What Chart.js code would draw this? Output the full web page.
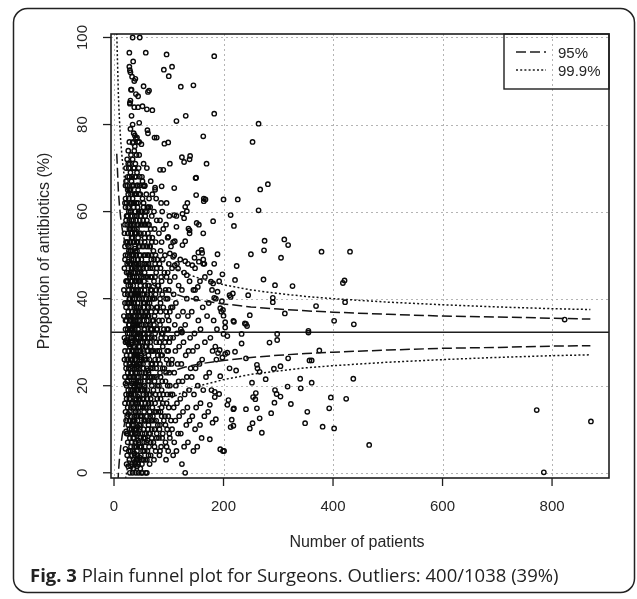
<!DOCTYPE html>
<html><head><meta charset="utf-8">
<script src="https://cdn.jsdelivr.net/npm/chart.js@4.4.1/dist/chart.umd.min.js"></script>
<style>html,body{margin:0;padding:0;background:#fff;}canvas{display:block;}</style>
</head><body>
<canvas id="c" width="637" height="599"></canvas>
<script>
// ---------- data ----------
const xTicks = [0, 200, 400, 600, 800];
const yTicks = [0, 20, 40, 60, 80, 100];
const centreLine = 32.3;
const legendLabels = ['95%', '99.9%'];
const xTitle = 'Number of patients';
const yTitle = 'Proportion of antibiotics (%)';
const captionBold = 'Fig. 3';
const captionText = ' Plain funnel plot for Surgeons. Outliers: 400/1038 (39%)';

const limitN   = [5, 8, 10, 12, 15, 20, 25, 30, 40, 50, 60, 80, 100, 130, 160, 200, 250, 300, 350, 400, 500, 600, 700, 800, 870];
const upper95  = [73.3, 64.7, 61.3, 58.8, 56.0, 52.8, 50.6, 49.0, 46.8, 45.3, 44.1, 42.5, 41.5, 40.3, 39.5, 38.8, 38.1, 37.6, 37.2, 36.9, 36.4, 36.0, 35.8, 35.5, 35.3];
const lower95  = [-8.7, -0.1, 3.3, 5.8, 8.6, 11.8, 14.0, 15.6, 17.8, 19.3, 20.5, 22.1, 23.1, 24.3, 25.1, 25.8, 26.5, 27.0, 27.4, 27.7, 28.2, 28.6, 28.8, 29.1, 29.2];
const upper999 = [101, 86.7, 80.9, 76.7, 72.0, 66.7, 63.1, 60.4, 56.6, 54.0, 52.2, 49.5, 47.7, 45.8, 44.5, 43.2, 42.0, 41.2, 40.5, 40.0, 39.2, 38.6, 38.1, 37.7, 37.5];
const lower999 = [-36, -22, -16, -12, -7.5, -2.1, 1.5, 4.2, 8.0, 10.5, 12.4, 15.1, 16.9, 18.8, 20.1, 21.4, 22.6, 23.4, 24.1, 24.6, 25.4, 26.0, 26.5, 26.9, 27.1];

// surgeons: [number of patients, proportion %]
const pointsHigh = [[34,100],[47,100],[28,96.5],[58,96.5],[96,96.1],[183,95.7],[35,94.5],[29,92.5],[28,93.3],[30,92],[91,92.6],[106,93.3],[100,91.1],[33,91],[37,90],[39,90.5],[122,88.7],[145,89],[32,88],[54,88.8],[62,87.5],[64,87.8],[40,87],[44,86.5],[30,85.5],[29,84.8],[37,84],[44,84],[52,84.2],[60,83.5],[70,83.3],[131,82],[114,80.8],[183,82.5],[46,80.4],[61,78.7],[38,77.5],[40,76.8],[74,77],[78,77],[163,77.3],[92,75.6],[99,75.9],[46,76],[50,75.5],[34,75.8],[124,72.5],[139,72.8],[128,71.4],[169,71],[102,71],[84,69.6],[90,69.6],[150,67.8],[110,65.4],[75,65.5],[87,65.8],[52,67],[55,65.9],[56,65.9],[267,65.1],[281,66.3],[264,80.2],[253,76],[264,60.3],[150,63.8],[164,63],[164,62.4],[200,62.8],[226,62.8],[213,59.2],[219,56.7],[181,57.8],[151,57.4],[125,59.5],[128,58.5],[110,59.2],[163,55],[138,55.7],[149,67.7],[167,62.8],[130,61.1],[133,60.1],[114,56.5],[136,56.1]];
const pointsMid = [[189,50.2],[250,50.2],[275,53.3],[274,51.1],[311,53.6],[318,52.3],[305,49.4],[161,50.5],[163,49],[165,48],[160,51.2],[224,47.5],[198,45.6],[273,44.4],[294,43.1],[326,42.9],[245,40.8],[379,50.8],[431,50.8],[418,43.6],[421,44.2],[99,54.2],[111,53.2],[130,53.2],[125,52.3],[102,50.4],[108,49.6],[111,47.7],[117,46.9],[147,49.4],[154,50.6],[155,48.5],[143,47.7],[130,48.6],[133,45.4],[166,45],[177,43.9],[181,43.5],[153,42.7],[148,42],[189,41.6],[183,40.2],[197,39.4],[213,40.4],[217,41.2],[211,40.8],[221,44.3],[290,40.2],[290,39.2],[422,39.2],[369,38.3],[438,34.1],[402,34.9],[355,32.6],[355,32.2],[823,35.2],[312,36.6],[248,36.2],[199,37.4],[200,36.1],[194,37.8],[218,34.9],[239,34.3],[203,34.6],[203,33.4],[219,34.7],[241,34.2],[243,33.7],[200,31.9],[207,31.4],[233,31.9],[298,31.9],[298,30.5],[284,29.9],[124,32.4],[124,32.2]];
const pointsLow = [[375,28.1],[361,25.8],[357,25.8],[340,21.6],[361,20.7],[341,19.4],[437,21.6],[396,17.3],[424,17],[393,14.8],[353,14],[349,11.4],[381,10.6],[402,10.2],[466,6.4],[772,14.4],[871,11.8],[785,0.1],[185,29],[190,27.5],[198,26.5],[187,26],[193,28.2],[203,27.3],[221,27.8],[207,27.6],[233,29.7],[241,26.3],[318,26.3],[211,24],[223,23.5],[261,24.8],[262,24],[266,23.2],[292,23.9],[304,24.5],[194,22.2],[252,20.7],[277,21.5],[317,19.8],[184,18.6],[192,18.1],[184,17.4],[254,17.4],[259,18.3],[258,16.9],[294,19],[297,18.1],[304,17.5],[323,15.8],[293,16.1],[209,16.7],[207,15.6],[219,14.8],[218,14.6],[241,14.6],[261,14.8],[287,13.7],[266,12.5],[215,12.2],[218,10.8],[213,10.5],[253,11.4],[248,10.2],[270,9.2],[180,11.5],[186,12.3],[175,7.7],[194,5.4],[201,5],[175,15.6]];
const pointsCore = [[18,42],[19,47],[18,36],[20,52],[21,30],[19,26],[20,22],[22,18],[21,14],[22,58],[20,62],[21,66],[22,70],[19,55],[20,39],[22,44],[21,33],[22,25],[20,49],[22,12],[21,61],[19,31],
[24,4],[25,7],[23,9],[26,11],[24,13],[25,15],[23,17],[26,19],[24,21],[25,23],[27,24],[23,27],[26,28],[24,30],[25,32],[27,34],[23,35],[26,37],[24,39],[25,41],[27,42],[23,44],[26,46],[24,48],[25,50],[27,51],[23,53],[26,55],[24,57],[25,59],[27,60],[23,62],[26,64],[24,66],[25,68],[27,70],[24,72],[26,74],[25,33],[23,20],[27,16],[24,26],[26,43],[25,53],
[29,0],[28,3],[30,5],[31,6],[29,8],[28,10],[32,10],[30,12],[29,14],[31,15],[28,17],[32,18],[30,20],[29,22],[31,23],[28,25],[32,26],[30,27],[29,29],[31,31],[28,32],[32,33],[30,35],[29,36],[31,38],[28,40],[32,41],[30,43],[29,45],[31,46],[28,48],[32,49],[30,51],[29,53],[31,55],[28,56],[32,58],[30,60],[29,62],[31,64],[28,65],[32,67],[30,69],[29,71],[31,73],[28,76],[30,79],[32,82],[29,85],[31,88],[30,24],[31,19],[29,40],[32,44],[30,57],[29,33],
[34,0],[35,1],[33,2],[36,3],[34,5],[37,6],[35,8],[33,9],[36,11],[34,12],[37,13],[35,15],[33,16],[36,18],[34,19],[37,20],[35,22],[33,23],[36,25],[34,26],[37,27],[35,29],[33,30],[36,32],[34,33],[37,34],[35,36],[33,37],[36,39],[34,40],[37,41],[35,43],[33,44],[36,46],[34,47],[37,48],[35,50],[33,51],[36,53],[34,54],[37,56],[35,58],[33,59],[36,61],[34,63],[37,64],[35,66],[33,68],[36,70],[34,72],[37,74],[35,76],[36,78],[34,80],[36,21],[35,31],[37,38],[34,45],[36,49],[33,56],[35,62],
[40,0],[39,2],[41,3],[38,4],[42,5],[40,7],[39,9],[41,10],[38,12],[42,13],[40,14],[39,16],[41,17],[38,19],[42,20],[40,21],[39,23],[41,24],[38,26],[42,27],[40,28],[39,30],[41,31],[38,33],[42,34],[40,35],[39,37],[41,38],[38,40],[42,41],[40,42],[39,44],[41,45],[38,47],[42,48],[40,50],[39,51],[41,53],[38,55],[42,56],[40,58],[39,60],[41,62],[38,64],[42,66],[40,68],[39,71],[41,73],[38,75],[42,77],[41,25],[40,32],[39,46],[42,22],[38,29],
[45,0],[44,2],[46,3],[43,4],[47,6],[45,7],[44,9],[46,11],[43,12],[48,13],[45,15],[44,16],[46,18],[43,19],[47,20],[45,22],[44,24],[46,25],[43,27],[48,28],[45,29],[44,31],[46,32],[43,34],[47,35],[45,37],[44,38],[46,40],[43,41],[48,43],[45,44],[44,46],[46,47],[43,49],[47,50],[45,52],[44,54],[46,55],[43,57],[48,59],[45,60],[44,62],[46,64],[43,66],[47,68],[45,70],[46,73],[44,76],[46,36],[45,21],[47,26],[44,33],[46,44],[45,48],
[50,0],[52,0],[51,2],[49,4],[53,5],[50,6],[54,8],[52,9],[49,11],[55,12],[51,13],[53,15],[50,16],[54,18],[52,19],[49,21],[55,22],[51,23],[53,25],[50,27],[54,28],[52,30],[49,31],[55,33],[51,34],[53,36],[50,37],[54,39],[52,41],[49,42],[55,44],[51,45],[53,47],[50,49],[54,50],[52,52],[49,53],[55,55],[51,57],[53,58],[50,60],[54,62],[52,63],[53,66],[51,68],[54,71],[50,26],[53,32],[51,40],[52,17],
[58,0],[60,0],[57,3],[61,5],[59,7],[56,9],[62,10],[58,12],[60,13],[57,15],[61,17],[59,18],[56,20],[62,21],[58,23],[60,24],[57,26],[61,28],[59,29],[56,31],[62,32],[58,34],[60,35],[57,37],[61,39],[59,40],[56,42],[62,43],[58,45],[60,47],[57,48],[61,50],[59,52],[56,53],[62,55],[58,57],[60,58],[57,60],[61,61],[59,64],[56,66],[60,70],[62,78],[61,36],
[65,2],[67,4],[64,6],[69,8],[66,9],[63,11],[68,12],[65,14],[70,15],[67,17],[64,18],[69,20],[66,22],[63,23],[68,25],[65,26],[70,28],[67,29],[64,31],[69,33],[66,34],[63,36],[68,37],[65,39],[70,40],[67,42],[64,43],[69,45],[66,47],[63,48],[68,50],[65,52],[70,54],[67,56],[64,57],[69,59],[66,61],[64,63],[70,64],[67,67]];
const pointsCoreExtra = [[21,5.5],[22,9.5],[20,16],[23,2],[21,20.5],[22,24],[20,28],[23,30.5],[21,35],[22,38],[20,41],[23,46],[21,50],[22,53],[20,57],[23,59],[21,63],[22,67],
[26,1.5],[27,5],[25,9],[28,12],[26,13.5],[27,18],[25,21],[28,22],[26,26],[27,29.5],[25,30],[28,34],[26,36],[27,39],[25,44],[28,45.5],[26,48.5],[27,52],[25,55],[28,58],[26,61],[27,63],[25,65],[28,68],[26,71],
[31,1.5],[33,4],[32,7],[30,9],[33,11],[31,13],[32,16],[30,18],[33,20.5],[31,22],[32,24.5],[30,26],[33,28],[31,29.5],[32,31],[30,33],[33,35],[31,36],[32,39],[30,41],[33,42],[31,44],[32,47],[30,48],[33,50],[31,52],[32,54],[30,56],[33,57],[31,60],[32,62],[30,65],[33,66],
[36,1],[38,2.5],[37,4.5],[39,7],[36,8],[38,10],[37,12],[39,14],[36,15],[38,17],[37,19],[39,20.5],[36,22],[38,24],[37,25],[39,27],[36,28],[38,30.5],[37,32],[39,34],[36,35],[38,36],[37,39],[39,41],[36,42],[38,44],[37,45],[39,48],[36,50],[38,51.5],[37,53],[39,55],[36,57],[38,59],[37,62],[39,64],[36,66],[38,68],[37,70],
[42,1.5],[43,3],[41,6],[44,7.5],[42,9],[43,10.5],[41,13],[44,14],[42,16],[43,17.5],[41,19],[44,20],[42,23],[43,24.5],[41,27],[44,28],[42,30],[43,32],[41,34],[44,35],[42,37],[43,39],[41,41],[44,42],[42,44],[43,46],[41,48],[44,49],[42,51],[43,53],[41,55],[44,57],[42,59],[43,61],[41,64],[44,65],[42,69],
[48,1],[47,3.5],[49,6],[48,8],[47,10],[49,13],[48,15],[47,17],[49,19],[48,21],[47,23],[49,25],[48,26.5],[47,29],[49,30],[48,32],[47,34],[49,36],[48,38],[47,40],[49,42],[48,44],[47,46],[49,47],[48,50],[47,52],[49,55],[48,57],[47,58],[49,60],[48,64],[47,66],
[54,3],[56,5],[55,7],[57,8],[54,10],[56,12],[55,14],[57,16],[54,17],[56,19],[55,20],[57,22],[54,24],[56,26],[55,27.5],[57,29],[54,31],[56,33],[55,35],[57,36],[54,38],[56,39],[55,41],[57,43],[54,45],[56,46],[55,48],[57,50],[54,52],[56,54],[55,57],[57,59],[54,61],
[60,3],[63,4],[61,7.5],[64,9],[62,12],[60,15],[63,16],[61,19],[64,21],[62,23.5],[60,26],[63,27],[61,30],[64,32],[62,34],[60,37],[63,38],[61,41],[64,40],[62,45],[60,48],[63,50],[61,52],[64,54],[62,57],[60,60],[63,61],
[67,7],[69,10],[66,13],[70,12],[68,16],[66,18],[69,22],[67,24],[70,25],[68,28],[66,30],[69,31],[67,33],[70,35],[68,38],[66,41],[69,42],[67,45],[70,47],[68,49],[66,52],[69,53],
[74,6],[78,9],[73,12],[77,12],[75,14],[79,20],[73,22],[77,24],[75,26],[79,28],[74,31],[78,33],[73,34],[76,37],[79,38],[74,40],[77,42],[75,45],[78,47],[73,49],[76,50],
[84,5],[88,8],[83,10],[87,13],[85,14],[89,16],[83,18],[87,19],[85,22],[89,24],[84,25],[88,27],[83,28],[86,31],[89,32],[84,34],[88,35],[85,39],[83,42],[87,44],[85,47],
[96,6],[101,9],[94,11],[99,13],[97,18],[102,20],[95,23],[100,25],[97,28],[101,30],[95,31],[99,33],[97,36],[102,37],[95,40],[100,42],[98,46]];
const pointsSpread = [[73,3],[76,5],[72,7],[78,8],[74,10],[80,11],[71,13],[77,14],[75,16],[79,17],[72,19],[74,21],[78,22],[71,24],[76,25],[80,27],[73,28],[77,30],[75,32],[79,33],[72,35],[74,36],[78,38],[71,40],[76,41],[80,43],[73,44],[77,46],[75,48],[79,49],[72,51],[76,53],[74,56],[78,58],[73,60],[77,63],[75,65],[76,18],
[83,4],[86,6],[82,8],[89,9],[84,11],[91,12],[81,14],[87,15],[85,17],[90,18],[82,20],[88,21],[84,23],[92,24],[81,26],[86,27],[89,29],[83,30],[87,32],[91,33],[82,35],[85,37],[90,38],[84,40],[88,41],[81,43],[86,45],[92,46],[83,48],[89,49],[85,51],[87,53],[82,55],[90,56],[84,58],[88,60],[86,62],
[95,3],[99,5],[94,7],[102,8],[97,10],[104,12],[93,13],[100,15],[96,16],[103,18],[98,20],[94,21],[101,23],[105,25],[96,26],[99,28],[93,30],[103,31],[97,33],[100,35],[95,37],[104,38],[98,40],[94,42],[102,44],[96,45],[100,48],[93,50],[104,52],[98,54],[95,57],[101,59],[96,62],
[108,4],[114,5],[110,7],[117,9],[106,10],[112,12],[119,13],[109,15],[115,16],[107,18],[113,20],[118,21],[110,23],[116,25],[106,26],[112,28],[119,29],[108,31],[115,32],[111,34],[117,36],[107,38],[113,39],[109,41],[118,43],[111,45],[106,47],[115,48],[110,50],[108,53],[114,59],
[124,2],[130,0],[128,6],[135,7],[122,9],[132,11],[138,12],[126,14],[134,15],[121,17],[129,18],[137,19],[125,21],[133,22],[140,24],[123,25],[131,27],[136,28],[127,30],[139,31],[122,33],[130,34],[135,36],[126,37],[133,40],[124,42],[138,44],[128,46],[121,49],[135,48],[138,55],[134,62],
[145,5],[152,6],[160,8],[148,10],[157,11],[143,13],[165,13],[150,15],[158,16],[146,18],[163,19],[153,20],[142,22],[168,22],[149,24],[156,25],[161,26],[144,28],[152,29],[166,30],[147,32],[158,33],[154,35],[142,37],[162,38],[150,40],[145,42],[157,44],[148,47],[163,48],[155,57],[138,72],
[172,14],[178,19],[174,23],[180,28],[176,31],[188,33],[182,35],[196,37],[173,39],[186,40],[179,42],[192,44],[175,46],[183,48],[199,5],[170,36]];

// ---------- chart ----------
const AXFONT = '"Liberation Sans", Arial, sans-serif';
const INK = '#1e1e1e';
const toXY = arr => arr.map(([x, y]) => ({x, y}));
const limitLine = vals => limitN.map((n, i) => ({x: n, y: vals[i]}));

const decor = {
  id: 'decor',
  beforeDatasetsDraw(chart) {
    const {ctx, chartArea: a, scales: {x, y}} = chart;
    ctx.save();
    ctx.strokeStyle = '#b4b4b4';
    ctx.lineWidth = 1;
    ctx.setLineDash([2, 3]);
    xTicks.forEach(v => { const p = Math.round(x.getPixelForValue(v)) + 0.5; ctx.beginPath(); ctx.moveTo(p, a.top); ctx.lineTo(p, a.bottom); ctx.stroke(); });
    yTicks.forEach(v => { const p = Math.round(y.getPixelForValue(v)) + 0.5; ctx.beginPath(); ctx.moveTo(a.left, p); ctx.lineTo(a.right, p); ctx.stroke(); });
    ctx.setLineDash([]);
    const py = y.getPixelForValue(centreLine);
    ctx.strokeStyle = INK; ctx.lineWidth = 1.5;
    ctx.beginPath(); ctx.moveTo(a.left, py); ctx.lineTo(a.right, py); ctx.stroke();
    ctx.restore();
  },
  afterDraw(chart) {
    const {ctx, chartArea: a, scales: {x, y}} = chart;
    ctx.save();
    // plot box
    ctx.strokeStyle = INK; ctx.lineWidth = 1.6;
    ctx.strokeRect(a.left, a.top, a.right - a.left, a.bottom - a.top);
    // ticks + labels
    ctx.lineWidth = 1.3;
    ctx.fillStyle = '#262626';
    ctx.font = '15px ' + AXFONT;
    ctx.textAlign = 'center'; ctx.textBaseline = 'middle';
    xTicks.forEach(v => {
      const p = x.getPixelForValue(v);
      ctx.beginPath(); ctx.moveTo(p, a.bottom); ctx.lineTo(p, a.bottom + 8); ctx.stroke();
      ctx.fillText(String(v), p, a.bottom + 29);
    });
    yTicks.forEach(v => {
      const p = y.getPixelForValue(v);
      ctx.beginPath(); ctx.moveTo(a.left, p); ctx.lineTo(a.left - 8, p); ctx.stroke();
      ctx.save(); ctx.translate(a.left - 28, p); ctx.rotate(-Math.PI / 2);
      ctx.fillText(String(v), 0, 0); ctx.restore();
    });
    // axis titles
    ctx.font = '16px ' + AXFONT;
    ctx.fillText(xTitle, 357, a.bottom + 65);
    ctx.save(); ctx.translate(45, 251); ctx.rotate(-Math.PI / 2);
    ctx.fillText(yTitle, 0, 0); ctx.restore();
    // legend
    const lx = 504, ly = a.top, lw = a.right - lx, lh = 55;
    ctx.lineWidth = 1.4; ctx.strokeStyle = INK;
    ctx.strokeRect(lx, ly, lw, lh);
    ctx.setLineDash([10, 4]);
    ctx.beginPath(); ctx.moveTo(516, ly + 18); ctx.lineTo(546, ly + 18); ctx.stroke();
    ctx.setLineDash([2, 2.2]);
    ctx.beginPath(); ctx.moveTo(516, ly + 36); ctx.lineTo(546, ly + 36); ctx.stroke();
    ctx.setLineDash([]);
    ctx.textAlign = 'left';
    ctx.font = '15px ' + AXFONT;
    ctx.fillText(legendLabels[0], 558, ly + 20);
    ctx.fillText(legendLabels[1], 558, ly + 38);
    // outer frame
    ctx.strokeStyle = '#222'; ctx.lineWidth = 1.5;
    ctx.beginPath(); ctx.roundRect(13.5, 8.5, 621, 584, 14); ctx.stroke();
    // caption
    ctx.fillStyle = '#222'; ctx.textBaseline = 'alphabetic';
    ctx.font = 'bold 18.5px "Open Sans", sans-serif';
    ctx.fillText(captionBold, 30, 582);
    const w = ctx.measureText(captionBold).width;
    ctx.font = '18.5px "Open Sans", sans-serif';
    ctx.fillText(captionText, 30 + w, 582);
    ctx.restore();
  }
};

const pointStyle = {type: 'scatter', pointRadius: 2.2, pointHoverRadius: 2.2, pointBorderWidth: 1.4, borderColor: '#0a0a0a', backgroundColor: 'rgba(0,0,0,0)', showLine: false};
const lineStyle = (dash) => ({type: 'scatter', showLine: true, pointRadius: 0, borderColor: '#141414', borderWidth: 1.5, borderDash: dash, fill: false, tension: 0});

new Chart(document.getElementById('c'), {
  type: 'scatter',
  data: {
    datasets: [
      Object.assign({label: '95% upper', data: limitLine(upper95)}, lineStyle([10, 4])),
      Object.assign({label: '95% lower', data: limitLine(lower95)}, lineStyle([10, 4])),
      Object.assign({label: '99.9% upper', data: limitLine(upper999)}, lineStyle([2, 2.2])),
      Object.assign({label: '99.9% lower', data: limitLine(lower999)}, lineStyle([2, 2.2])),
      Object.assign({label: 'Surgeons', data: toXY([].concat(pointsHigh, pointsMid, pointsLow, pointsCore, pointsCoreExtra, pointsSpread))}, pointStyle)
    ]
  },
  options: {
    responsive: false, animation: false, devicePixelRatio: 1,
    layout: {padding: {left: 111, top: 34, right: 28, bottom: 121}},
    plugins: {legend: {display: false}, tooltip: {enabled: false}},
    scales: {
      x: {type: 'linear', display: false, min: -5.5, max: 904},
      y: {type: 'linear', display: false, min: -1.2, max: 100.8}
    }
  },
  plugins: [decor]
});
</script>
</body></html>
